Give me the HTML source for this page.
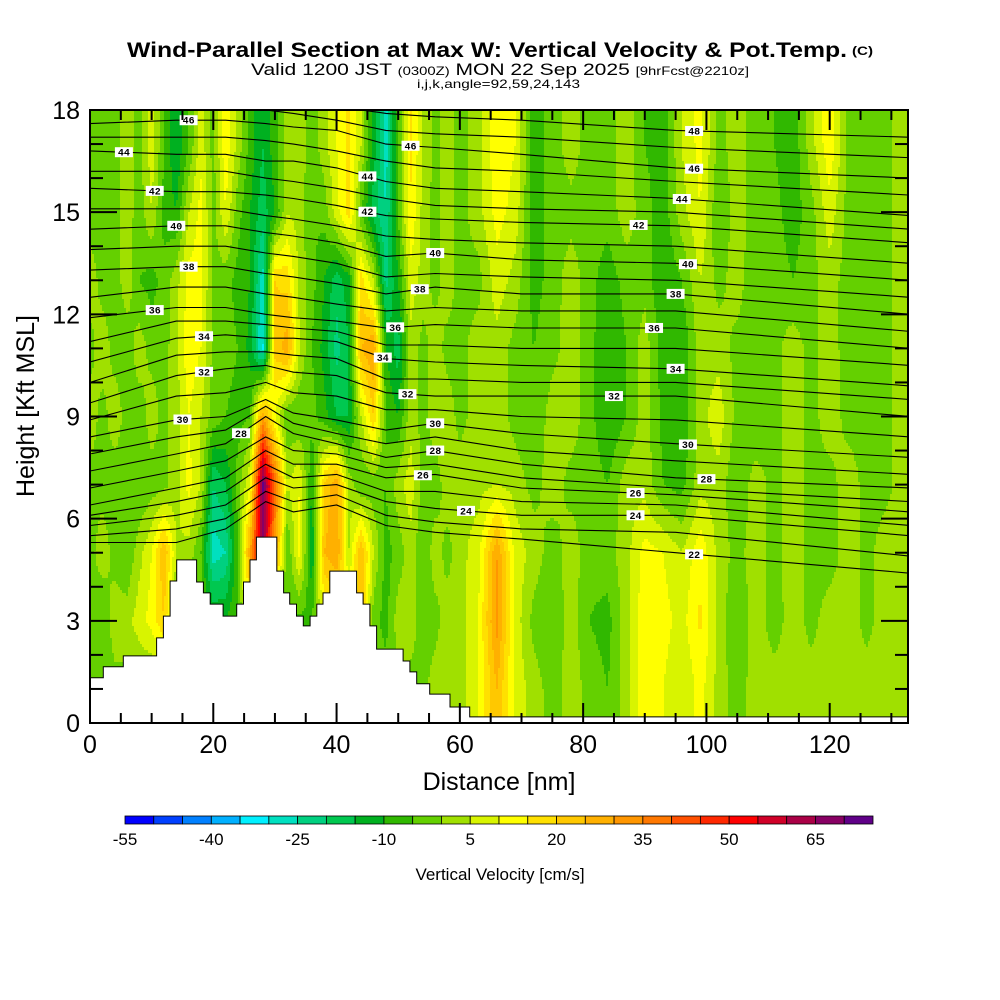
<!DOCTYPE html>
<html><head><meta charset="utf-8"><style>
html,body{margin:0;padding:0;background:#fff;}
svg{display:block;font-family:"Liberation Sans",sans-serif;}
</style></head><body>
<svg id="chart" width="1000" height="1000" viewBox="0 0 1000 1000" xmlns="http://www.w3.org/2000/svg">
<rect x="0" y="0" width="1000" height="1000" fill="#fff"/>
<g id="title">
<text x="127" y="57" font-size="21" font-weight="bold" textLength="720" lengthAdjust="spacingAndGlyphs">Wind-Parallel Section at Max W: Vertical Velocity &amp; Pot.Temp.</text>
<text x="852" y="55" font-size="12" font-weight="bold" textLength="21" lengthAdjust="spacingAndGlyphs">(C)</text>
<text x="251" y="75" font-size="17" textLength="498" lengthAdjust="spacingAndGlyphs">Valid 1200 JST <tspan font-size="12">(0300Z)</tspan> MON 22 Sep 2025 <tspan font-size="12">[9hrFcst@2210z]</tspan></text>
<text x="417" y="88" font-size="12" textLength="163" lengthAdjust="spacingAndGlyphs">i,j,k,angle=92,59,24,143</text>
</g>
<defs><clipPath id="plotclip"><rect x="90" y="110" width="818" height="613"/></clipPath></defs>
<g id="field" clip-path="url(#plotclip)"></g>
<g id="theta" clip-path="url(#plotclip)"></g>
<g id="terrain" clip-path="url(#plotclip)"></g>
<g id="labels"></g>
<g id="axes"></g>
<g id="cbar"></g>
</svg>
<script>
// ---------- data ----------
const xKm = [0,2,4,6,8,10,12,14,16,18,20,22,24,26,28,30,32,34,36,38,40,42,44,46,48,50,52,54,56,58,60,63,66,69,72,75,78,81,84,87,90,93,96,99,102,105,108,111,114,117,120,123,126,129,132];
const rowHeights = [17,15,13,11,9,7,5,3,1];
const w17 = [-5,-5,-3,3,-2,8,-5,-15,-5,8,-2,14,3,-7,-15,-7,3,3,-3,3,10,16,5,-12,-28,-5,16,5,-2,3,-2,3,14,10,-8,-3,3,-3,-2,3,-5,-8,5,12,-2,3,-3,-5,-9,3,14,-2,-3,-2,3];
const w15 = [-2,-5,-3,3,-3,5,-7,-10,5,12,-2,10,-3,-10,-18,-10,5,3,-5,-3,8,18,-5,-18,-25,-5,15,3,-2,3,-2,3,12,8,-8,-3,-2,-2,-3,3,-3,-8,3,10,-5,3,-3,-3,-8,-2,8,-2,-5,-2,3];
const w13 = [3,-2,-3,3,-5,-7,-3,3,12,12,-2,-3,-7,-10,-28,20,18,3,-3,-10,-18,-12,18,5,-22,-10,8,3,-2,3,-2,-2,8,3,-7,-3,3,-3,-8,-3,-2,-10,-5,5,-2,3,-5,-2,-5,-2,3,-3,-5,-2,3];
const w11 = [-2,3,-2,-3,3,-2,-2,3,14,10,-2,-3,-5,-12,-32,22,28,5,-5,-12,-22,-15,25,30,-10,-18,3,-2,3,-2,-2,3,3,-2,-5,-2,3,-3,-10,-5,3,-8,-10,3,3,-2,-5,-2,3,-2,3,-3,-2,-2,3];
const w9 = [3,-2,3,-2,-3,3,-2,3,10,5,-2,-5,-7,-5,30,10,-5,-5,-3,-8,-15,-15,5,20,-5,-10,3,-2,3,3,-2,3,3,-2,-5,3,3,-3,-10,-5,3,-7,-10,3,8,-2,-5,-2,3,-2,3,-2,-2,-2,3];
const w7 = [-2,-2,-3,-2,-5,-3,-2,3,12,5,-20,-15,-3,10,72,40,5,10,-10,20,30,3,-5,-3,-5,3,8,-2,-3,3,3,3,5,3,-2,3,-2,-2,-5,3,3,-5,-7,3,3,-5,3,-2,3,-2,-2,3,-2,-2,3];
const w5 = [-2,3,-2,-5,3,10,25,5,3,-5,-28,-25,-5,30,65,30,-5,12,-15,25,30,5,25,5,-7,-3,3,-5,3,-2,3,8,30,8,3,-3,3,-3,-2,3,12,10,5,14,3,-2,3,-2,3,-2,-3,3,-2,3,3];
const w3 = [-2,-5,3,3,8,12,20,-3,-2,-3,-10,-10,-5,10,3,3,-5,-7,-5,10,10,15,25,-3,-7,3,3,-3,-2,3,3,10,32,8,-2,-5,3,-5,-7,3,14,12,8,16,3,-5,3,-3,3,-2,3,3,-2,3,3];
const w1 = [-2,-2,-2,-2,-2,-2,-2,-2,-2,-2,-2,-2,-2,-2,-2,-2,-2,-2,-2,-2,-2,-2,-2,-2,-2,-2,-2,-2,3,3,3,10,25,8,3,-3,3,-2,-5,3,14,10,5,12,3,-3,3,3,3,3,3,3,3,3,3];
const cbarValues = [-55,-50,-45,-40,-35,-30,-25,-20,-15,-10,-5,0,5,10,15,20,25,30,35,40,45,50,55,60,65,70,75];
const cbarTickLabels = ["-55","-40","-25","-10","5","20","35","50","65"];
const palette = ["#0000ff","#0040ff","#0080ff","#00b0ff","#00f0ff","#00e0c0","#00d080","#00c850","#00b020","#30b800","#64d000","#a0e000","#d8f400","#ffff00","#ffe000","#ffc800","#ffb000","#ff9600","#ff7800","#ff5000","#ff2800","#ff0000","#d00028","#aa0046","#880064","#600088"];
// terrain steps: [x0, x1, height kft]
const terrainSteps = [[0,2.16,1.33],[2.16,5.4,1.65],[5.4,10.8,1.97],[10.8,11.9,2.5],[11.9,13.0,3.14],[13.0,14.06,4.17],[14.06,17.3,4.79],[17.3,18.4,4.14],[18.4,19.5,3.82],[19.5,21.6,3.49],[21.6,23.8,3.14],[23.8,24.9,3.49],[24.9,25.95,4.14],[25.95,27.0,4.79],[27.0,30.3,5.46],[30.3,31.4,4.46],[31.4,32.4,3.82],[32.4,33.5,3.49],[33.5,34.6,3.14],[34.6,35.7,2.85],[35.7,36.8,3.14],[36.8,37.8,3.49],[37.8,38.9,3.82],[38.9,43.25,4.46],[43.25,44.3,3.82],[44.3,45.4,3.49],[45.4,46.5,2.85],[46.5,50.8,2.17],[50.8,51.9,1.82],[51.9,53.0,1.5],[53.0,55.1,1.15],[55.1,58.4,0.85],[58.4,61.6,0.47],[61.6,133,0.18]];
// potential temperature contour heights (kft) at thetaX
const thetaX = [0,14,22,28.5,33,40,48,56,70,95,133];
const thetaLevels = [48,47,46,45,44,43,42,41,40,39,38,37,36,35,34,33,32,31,30,29,28,27,26,25,24,23,22];
const thetaHeights = [
[18.6,18.6,18.5,18.4,18.3,18.1,17.9,17.8,17.7,17.4,17.2],
[18.1,18.1,18.1,18.0,17.9,17.7,17.4,17.3,17.2,16.9,16.6],
[17.6,17.7,17.7,17.6,17.5,17.4,17.0,16.9,16.7,16.3,16.0],
[17.2,17.2,17.2,17.1,17.0,16.8,16.5,16.3,16.2,15.9,15.5],
[16.8,16.7,16.7,16.5,16.5,16.3,15.9,15.7,15.6,15.4,14.9],
[16.2,16.2,16.2,16.0,15.9,15.7,15.4,15.2,15.1,15.0,14.5],
[15.7,15.6,15.6,15.5,15.4,15.2,14.9,14.8,14.7,14.6,14.1],
[15.1,15.1,15.1,14.9,14.8,14.6,14.3,14.2,14.1,14.0,13.5],
[14.5,14.6,14.6,14.4,14.3,14.1,13.7,13.8,13.6,13.5,13.0],
[13.9,14.0,14.0,13.8,13.7,13.5,13.1,13.2,13.1,13.0,12.5],
[13.3,13.4,13.4,13.2,13.1,12.9,12.6,12.8,12.6,12.6,12.0],
[12.5,12.8,12.8,12.6,12.5,12.3,12.1,12.2,12.1,12.1,11.5],
[11.9,12.2,12.2,12.0,11.9,11.8,11.6,11.7,11.6,11.6,11.0],
[11.2,11.8,11.8,11.7,11.6,11.5,11.1,11.1,11.0,11.0,10.5],
[10.6,11.3,11.4,11.3,11.3,11.2,10.7,10.6,10.5,10.4,9.9],
[10.0,10.8,10.9,10.9,10.8,10.7,10.1,10.1,10.0,10.0,9.5],
[9.4,10.2,10.4,10.5,10.3,10.2,9.7,9.6,9.6,9.6,9.0],
[8.9,9.6,9.7,10.0,9.7,9.6,9.2,9.2,9.0,8.9,8.4],
[8.4,8.9,9.0,9.5,9.1,8.9,8.6,8.8,8.5,8.2,7.8],
[7.9,8.4,8.6,9.3,8.8,8.5,8.2,8.4,8.0,7.7,7.3],
[7.4,7.9,8.2,9.0,8.5,8.2,7.8,8.0,7.6,7.2,6.9],
[6.9,7.4,7.7,8.4,8.0,7.9,7.5,7.6,7.2,6.9,6.5],
[6.4,6.9,7.2,8.0,7.6,7.6,7.2,7.3,6.9,6.7,6.2],
[6.1,6.5,6.8,7.6,7.2,7.3,6.8,6.8,6.5,6.4,5.8],
[5.8,6.1,6.4,7.2,6.9,7.0,6.5,6.3,6.1,6.1,5.5],
[5.5,5.7,6.0,6.8,6.5,6.7,6.1,5.9,5.7,5.6,4.9],
[5.3,5.3,5.7,6.5,6.2,6.4,5.8,5.6,5.4,5.0,4.4]];
const labelLevels = [46,44,42,40,38,36,34,32,30,28,46,44,42,40,38,36,34,32,30,28,26,24,48,46,44,42,40,38,36,34,32,30,28,26,24,22];
const labelX = [16,5.5,10.5,14,16,10.5,18.5,18.5,15,24.5,52,45,45,56,53.5,49.5,47.5,51.5,56,56,54,61,98,98,96,89,97,95,91.5,95,85,97,100,88.5,88.5,98];
const xTicks = [0,20,40,60,80,100,120];
const yTicks = [0,3,6,9,12,15,18];

// ---------- scales ----------
const X0=90,X1=908,Y0=723,Y1=110,XMAX=132.7,YMAX=18;
const sx = v => X0 + v*(X1-X0)/XMAX;
const sy = v => Y0 - v*(Y0-Y1)/YMAX;
const NS="http://www.w3.org/2000/svg";
function mk(tag, parent, attrs){const e=document.createElementNS(NS,tag);for(const k in attrs)e.setAttribute(k,attrs[k]);parent.appendChild(e);return e;}
const rows=[w17,w15,w13,w11,w9,w7,w5,w3,w1];
function colorOf(v){let b=Math.floor((v+55)/5);b=Math.max(0,Math.min(palette.length-1,b));return palette[b];}
function sample(nm,h){
  let i=0;while(i<xKm.length-2&&xKm[i+1]<nm)i++;
  let tx=(nm-xKm[i])/(xKm[i+1]-xKm[i]);tx=Math.max(0,Math.min(1,tx));
  let hh=Math.max(rowHeights[rowHeights.length-1],Math.min(rowHeights[0],h));
  let j=0;while(j<rowHeights.length-2&&rowHeights[j+1]>hh)j++;
  let ty=(rowHeights[j]-hh)/(rowHeights[j]-rowHeights[j+1]);
  const a=rows[j][i]*(1-tx)+rows[j][i+1]*tx, b=rows[j+1][i]*(1-tx)+rows[j+1][i+1]*tx;
  return a*(1-ty)+b*ty;
}
// ---------- field ----------
const field=document.getElementById('field');
const DX=2,DY=3;
for(let py=Y1;py<Y0;py+=DY){
  const h=(Y0-(py+DY/2))*YMAX/(Y0-Y1);
  let runStart=X0,runCol=null;
  for(let px=X0;px<=X1;px+=DX){
    const c=px<X1?colorOf(sample((px+DX/2-X0)*XMAX/(X1-X0),h)):null;
    if(c!==runCol){
      if(runCol){
        const r=mk('rect',field,{x:runStart,y:py,width:px-runStart+0.6,height:DY+0.6,fill:runCol});
        
        
      }
      runStart=px;runCol=c;
    }
  }
}
// ---------- theta contours ----------
const theta=document.getElementById('theta');
function thetaAt(li,nm){let i=0;while(i<thetaX.length-2&&thetaX[i+1]<nm)i++;const t=(nm-thetaX[i])/(thetaX[i+1]-thetaX[i]);return thetaHeights[li][i]*(1-t)+thetaHeights[li][i+1]*t;}
thetaLevels.forEach((lv,li)=>{
  const pts=thetaX.map((x,k)=>sx(x).toFixed(1)+','+sy(thetaHeights[li][k]).toFixed(1)).join(' ');
  const p=mk('polyline',theta,{points:pts,fill:'none',stroke:'#000','stroke-width':1.1});
  
  
});
// ---------- terrain ----------
const terrain=document.getElementById('terrain');
let d='M'+sx(0)+','+(Y0+2);
terrainSteps.forEach(s=>{d+=' L'+sx(s[0]).toFixed(1)+','+sy(s[2]).toFixed(1)+' L'+sx(s[1]).toFixed(1)+','+sy(s[2]).toFixed(1);});
d+=' L'+(X1+2)+','+(Y0+2)+' Z';
const tp=mk('path',terrain,{d:d,fill:'#fff',stroke:'#000','stroke-width':1});


// ---------- contour labels ----------
const labels=document.getElementById('labels');
labelLevels.forEach((lv,k)=>{
  const li=thetaLevels.indexOf(lv);const x=sx(labelX[k]),y=sy(thetaAt(li,labelX[k]));
  const g=mk('g',labels,{});
  
  
  mk('rect',g,{x:x-9,y:y-5,width:18,height:10,fill:'#fff'});
  const t=mk('text',g,{x:x,y:y+3.5,'font-size':10,'font-family':'Liberation Mono, monospace','font-weight':'bold','text-anchor':'middle'});
  t.textContent=lv;
});
// ---------- axes ----------
const axes=document.getElementById('axes');
const fr=mk('rect',axes,{x:X0,y:Y1,width:X1-X0,height:Y0-Y1,fill:'none',stroke:'#000','stroke-width':2});


for(let v=0;v<=130;v+=5){
  const major=v%20===0,L=major?20:10,x=sx(v);
  mk('line',axes,{x1:x,y1:Y0,x2:x,y2:Y0-L,stroke:'#000','stroke-width':2});
  mk('line',axes,{x1:x,y1:Y1,x2:x,y2:Y1+L,stroke:'#000','stroke-width':2});
}
for(let v=0;v<=18;v+=1){
  const major=v%3===0,L=major?27:13,y=sy(v);
  mk('line',axes,{x1:X0,y1:y,x2:X0+L,y2:y,stroke:'#000','stroke-width':2});
  mk('line',axes,{x1:X1,y1:y,x2:X1-L,y2:y,stroke:'#000','stroke-width':2});
}
xTicks.forEach(v=>{
  const t=mk('text',axes,{x:sx(v),y:753,'font-size':25,'text-anchor':'middle'});
  
  
  t.textContent=v;
});
yTicks.forEach(v=>{
  const t=mk('text',axes,{x:80,y:sy(v)+9,'font-size':25,'text-anchor':'end'});
  
  
  t.textContent=v;
});
const xt=mk('text',axes,{x:499,y:790,'font-size':25,'text-anchor':'middle'});


xt.textContent='Distance [nm]';
const yt=mk('text',axes,{x:0,y:0,'font-size':25,'text-anchor':'middle',transform:'translate(34,406) rotate(-90)'});


yt.textContent='Height [Kft MSL]';
// ---------- colorbar ----------
const cbar=document.getElementById('cbar');
const CB0=125,CB1=873,nb=cbarValues.length-1,bw=(CB1-CB0)/nb;
for(let k=0;k<nb;k++){
  const r=mk('rect',cbar,{x:CB0+k*bw,y:816,width:bw,height:8,fill:palette[k],stroke:'#000','stroke-width':0.8});
  
  
}
cbarTickLabels.forEach(s=>{
  const k=cbarValues.indexOf(Number(s));
  const t=mk('text',cbar,{x:CB0+k*bw,y:845,'font-size':17,'text-anchor':'middle'});
  
  
  t.textContent=s;
});
const ct=mk('text',cbar,{x:500,y:880,'font-size':17,'text-anchor':'middle'});


ct.textContent='Vertical Velocity [cm/s]';
</script>
</body></html>
